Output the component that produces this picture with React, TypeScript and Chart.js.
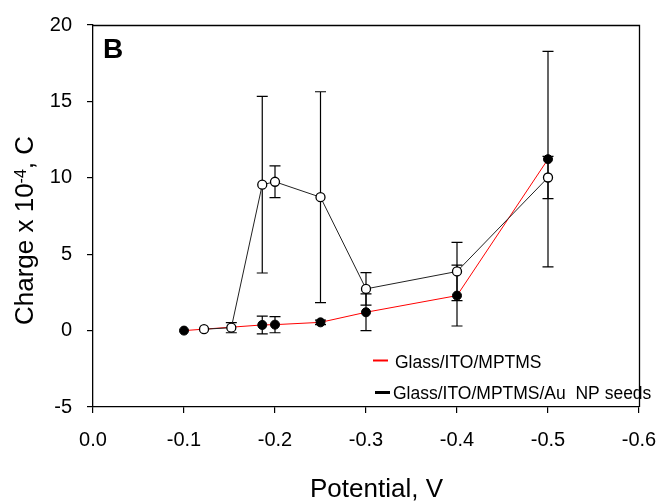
import React, { useEffect, useRef } from "react";
import { Chart, registerables } from "chart.js";

Chart.register(...registerables);

// ---- data ----
const xTicks = [0, -0.1, -0.2, -0.3, -0.4, -0.5, -0.6];
const xTickLabels = ["0.0", "-0.1", "-0.2", "-0.3", "-0.4", "-0.5", "-0.6"];
const yTicks = [-5, 0, 5, 10, 15, 20];
const yTickLabels = ["-5", "0", "5", "10", "15", "20"];

const seriesLabels = ["Glass/ITO/MPTMS", "Glass/ITO/MPTMS/Au  NP seeds"];

const mptmsPotential = [-0.1, -0.186, -0.2, -0.25, -0.3, -0.4, -0.5];
const mptmsCharge = [0.0, 0.37, 0.39, 0.54, 1.2, 2.29, 11.22];
const mptmsError = [0, 0.58, 0.53, 0.15, 1.2, 1.99, 7.05];

const seedsPotential = [-0.122, -0.152, -0.186, -0.2, -0.25, -0.3, -0.4, -0.5];
const seedsCharge = [0.09, 0.19, 9.55, 9.74, 8.73, 2.73, 3.87, 10.02];
const seedsError = [0, 0.33, 5.78, 1.04, 6.9, 1.06, 1.91, 1.38];

const FONT = "'Liberation Sans', Arial, Helvetica, sans-serif";

const errorBarPlugin = {
  id: "errorBars",
  beforeDatasetsDraw(chart: any) {
    const ctx = chart.ctx;
    const xs = chart.scales.x;
    const ys = chart.scales.y;
    ctx.save();
    ctx.strokeStyle = "#000";
    ctx.lineWidth = 1.2;
    chart.data.datasets.forEach((ds: any) => {
      const errs = ds.errors;
      if (!errs) return;
      ds.data.forEach((p: any, i: number) => {
        const e = errs[i];
        if (!e) return;
        const px = xs.getPixelForValue(p.x);
        const top = ys.getPixelForValue(p.y + e);
        const bot = ys.getPixelForValue(p.y - e);
        ctx.beginPath();
        ctx.moveTo(px, top);
        ctx.lineTo(px, bot);
        ctx.moveTo(px - 5.5, top);
        ctx.lineTo(px + 5.5, top);
        ctx.moveTo(px - 5.5, bot);
        ctx.lineTo(px + 5.5, bot);
        ctx.stroke();
      });
    });
    ctx.restore();
  },
};

const decorPlugin = {
  id: "decor",
  afterDraw(chart: any) {
    const ctx = chart.ctx;
    const area = chart.chartArea;
    ctx.save();
    ctx.fillStyle = "#000";

    // panel letter
    ctx.font = `bold 28px ${FONT}`;
    ctx.textAlign = "left";
    ctx.textBaseline = "alphabetic";
    ctx.fillText("B", 103, 58);

    // x title
    ctx.font = `26px ${FONT}`;
    ctx.textAlign = "center";
    ctx.fillText("Potential, V", 376.5, 497);

    // y title with superscript
    ctx.save();
    ctx.translate(33, 230.5);
    ctx.rotate(-Math.PI / 2);
    ctx.textAlign = "left";
    const p1 = "Charge x 10";
    const sup = "-4";
    const p3 = ", C";
    ctx.font = `26px ${FONT}`;
    const w1 = ctx.measureText(p1).width;
    const w3 = ctx.measureText(p3).width;
    ctx.font = `16px ${FONT}`;
    const w2 = ctx.measureText(sup).width;
    let x = -(w1 + w2 + w3) / 2;
    ctx.font = `26px ${FONT}`;
    ctx.fillText(p1, x, 0);
    x += w1;
    ctx.font = `16px ${FONT}`;
    ctx.fillText(sup, x, -7);
    x += w2;
    ctx.font = `26px ${FONT}`;
    ctx.fillText(p3, x, 0);
    ctx.restore();

    // legend
    const ds = chart.data.datasets;
    ctx.font = `17.5px ${FONT}`;
    ctx.textAlign = "left";
    ctx.fillStyle = "#000";
    ctx.strokeStyle = "#ff0000";
    ctx.lineWidth = 2;
    ctx.beginPath();
    ctx.moveTo(373, 360.5);
    ctx.lineTo(388, 360.5);
    ctx.stroke();
    ctx.fillText(ds[1].label, 395, 368);
    ctx.strokeStyle = "#000";
    ctx.lineWidth = 3;
    ctx.beginPath();
    ctx.moveTo(375, 392.5);
    ctx.lineTo(390, 392.5);
    ctx.stroke();
    ctx.fillText(ds[0].label, 393, 399);

    // frame top/right
    ctx.strokeStyle = "#000";
    ctx.lineWidth = 1.3;
    ctx.beginPath();
    ctx.moveTo(area.left, Math.round(area.top) + 0.5);
    ctx.lineTo(Math.round(area.right) + 0.5, Math.round(area.top) + 0.5);
    ctx.lineTo(Math.round(area.right) + 0.5, area.bottom);
    ctx.stroke();
    ctx.restore();
  },
};

export default function App() {
  const ref = useRef<HTMLCanvasElement | null>(null);

  useEffect(() => {
    if (!ref.current) return;
    const chart = new Chart(ref.current, {
      type: "scatter",
      data: {
        datasets: [
          {
            label: seriesLabels[1],
            data: seedsPotential.map((x, i) => ({ x, y: seedsCharge[i] })),
            errors: seedsError,
            showLine: true,
            borderColor: "#222",
            borderWidth: 1,
            pointRadius: 4.5,
            pointBackgroundColor: "#fff",
            pointBorderColor: "#000",
            pointBorderWidth: 1.3,
            order: 0,
          } as any,
          {
            label: seriesLabels[0],
            data: mptmsPotential.map((x, i) => ({ x, y: mptmsCharge[i] })),
            errors: mptmsError,
            showLine: true,
            borderColor: "#ff0000",
            borderWidth: 1,
            pointRadius: 4.5,
            pointBackgroundColor: "#000",
            pointBorderColor: "#000",
            pointBorderWidth: 1,
            order: 1,
          } as any,
        ],
      },
      options: {
        animation: false,
        responsive: false,
        devicePixelRatio: 1,
        layout: { padding: { left: 0, top: 25, right: 23, bottom: 0 } },
        plugins: {
          legend: { display: false },
          tooltip: { enabled: false },
        },
        scales: {
          x: {
            type: "linear",
            min: -0.6,
            max: 0,
            reverse: true,
            afterBuildTicks: (scale: any) => {
              scale.ticks = xTicks.map((v) => ({ value: v }));
            },
            afterFit: (scale: any) => {
              scale.height = 95;
              scale.paddingLeft = 0;
              scale.paddingRight = 0;
            },
            ticks: {
              autoSkip: false,
              maxRotation: 0,
              padding: 15,
              color: "#000",
              font: { family: FONT, size: 20 },
              callback: (value: any) => {
                const i = xTicks.findIndex((t) => Math.abs(t - Number(value)) < 1e-6);
                return i >= 0 ? xTickLabels[i] : "";
              },
            },
            grid: {
              drawOnChartArea: false,
              drawTicks: true,
              tickLength: 6,
              color: "#000",
              lineWidth: 1.2,
            },
            border: { display: true, color: "#000", width: 1.3 },
          },
          y: {
            type: "linear",
            min: -5,
            max: 20,
            afterBuildTicks: (scale: any) => {
              scale.ticks = yTicks.map((v) => ({ value: v }));
            },
            afterFit: (scale: any) => {
              scale.width = 93;
              scale.paddingTop = 0;
              scale.paddingBottom = 0;
            },
            ticks: {
              autoSkip: false,
              padding: 15,
              color: "#000",
              font: { family: FONT, size: 20 },
              callback: (value: any) => {
                const i = yTicks.findIndex((t) => Math.abs(t - Number(value)) < 1e-6);
                return i >= 0 ? yTickLabels[i] : "";
              },
            },
            grid: {
              drawOnChartArea: false,
              drawTicks: true,
              tickLength: 6,
              color: "#000",
              lineWidth: 1.2,
            },
            border: { display: true, color: "#000", width: 1.3 },
          },
        },
      } as any,
      plugins: [errorBarPlugin, decorPlugin],
    });
    return () => chart.destroy();
  }, []);

  return (
    <div style={{ position: "fixed", left: 0, top: 0, width: 662, height: 502, background: "#fff" }}>
      <canvas ref={ref} width={662} height={502} style={{ display: "block", width: 662, height: 502 }} />
    </div>
  );
}
